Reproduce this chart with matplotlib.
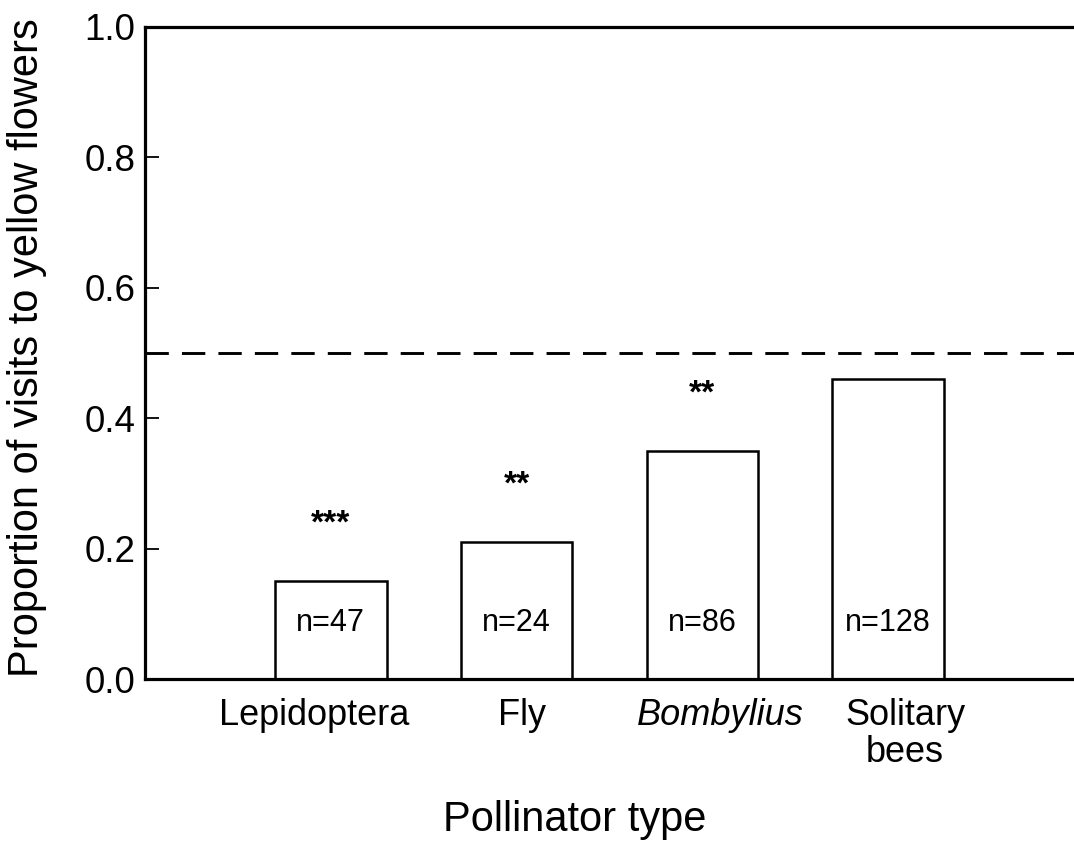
import matplotlib
matplotlib.use("Agg")
import matplotlib.pyplot as plt
import matplotlib.transforms as mtransforms
import numpy as np

plt.rcParams['font.family'] = ['Liberation Sans', 'DejaVu Sans']

# ---- data ----
categories = ["Lepidoptera", "Fly", "Bombylius", "Solitary\nbees"]
proportions = [0.15, 0.21, 0.35, 0.46]
sample_sizes = [47, 24, 86, 128]
significance = ["***", "**", "**", ""]
null_expectation = 0.5
yticks = [0.0, 0.2, 0.4, 0.6, 0.8, 1.0]

# ---- figure ----
fig = plt.figure(figsize=(10.74, 8.55), dpi=100)
ax = fig.add_axes([145/1074, 176/855, 929/1074, 652/855])

x = np.arange(len(categories))
ax.bar(x, proportions, width=0.6, facecolor='white', edgecolor='black',
       linewidth=1.8, zorder=2)
ax.axhline(null_expectation, color='black', lw=2.1, ls=(0, (8, 4.5)), zorder=3)

for xi, v, n, s in zip(x, proportions, sample_sizes, significance):
    ax.text(xi, 0.073, f"n={n}", ha='center', va='baseline', fontsize=22)
    if s:
        ax.text(xi, v + 0.074, s, ha='center', va='baseline', fontsize=24,
                fontweight='bold')

ax.set_xlim(-1, 4)
ax.set_ylim(0, 1.0)
ax.set_yticks(yticks)
ax.set_yticklabels([f"{t:.1f}" for t in yticks])
ax.set_xticks(x)
ax.set_xticklabels(categories, fontsize=26, linespacing=1.05)
ax.tick_params(axis='x', length=0, pad=14)
ax.tick_params(axis='y', direction='in', length=10, width=1.3, labelsize=26.5, pad=7)

offsets_pt = [-12, 3.6, 13, 12.2]
for lab, off in zip(ax.get_xticklabels(), offsets_pt):
    lab.set_transform(lab.get_transform() +
                      mtransforms.ScaledTranslation(off/72, 0, fig.dpi_scale_trans))
ax.get_xticklabels()[2].set_fontstyle('italic')

for side in ['left', 'bottom', 'top']:
    ax.spines[side].set_linewidth(2.3)
ax.spines['right'].set_visible(False)

ax.set_ylabel("Proportion of visits to yellow flowers", fontsize=30)
ax.yaxis.set_label_coords(-0.105, 0.508)
ax.set_xlabel("Pollinator type", fontsize=30)
ax.xaxis.set_label_coords(0.462, -0.186)

fig.savefig("out.png", dpi=100)
